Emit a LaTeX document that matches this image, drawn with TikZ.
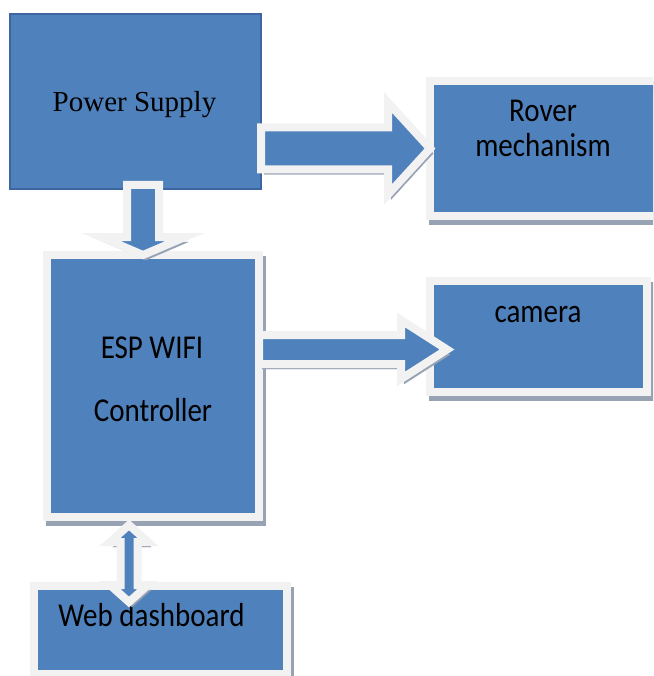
\documentclass[tikz,border=0pt]{standalone}
\usepackage{fontspec}
\setmainfont{Liberation Serif}
\newfontfamily\boxfont{Carlito}
\usetikzlibrary{calc}
\definecolor{bluec}{HTML}{4F81BD}
\definecolor{bordc}{HTML}{F2F2F2}
\definecolor{shadc}{HTML}{97A2B3}
\definecolor{psbord}{HTML}{3D65A0}
\newcommand\talltext[1]{\scalebox{1}[1.15]{#1}}
\tikzset{
  shadowed/.style={preaction={draw=shadc, fill=shadc, transform canvas={xshift=3pt, yshift=-5pt}}},
  blockbox/.style={rectangle, inner sep=0pt, outer sep=0pt, fill=bluec, draw=bordc, line width=8pt, shadowed},
  psbox/.style={rectangle, inner sep=0pt, outer sep=0pt, fill=bluec, draw=psbord, line width=2.5pt},
  blockarrow/.style={fill=bluec, draw=bordc, line width=8pt, line join=miter, miter limit=10, shadowed},
  seriflabel/.style={anchor=base, inner sep=0pt, font=\fontsize{29}{34}\selectfont},
  sanslabel/.style={anchor=base, inner sep=0pt, font=\boxfont\fontsize{29}{34}\selectfont},
}
% horizontal right arrow: start, tip, shaft half width, head half width, head length
\newcommand\harrowR[5]{\path[blockarrow] ($(#1)+(0,-#3)$) -- ($(#2)+(-#5,-#3)$) -- ($(#2)+(-#5,-#4)$) -- (#2) -- ($(#2)+(-#5,#4)$) -- ($(#2)+(-#5,#3)$) -- ($(#1)+(0,#3)$) -- cycle;}
% vertical down arrow
\newcommand\varrowD[5]{\path[blockarrow] ($(#1)+(-#3,0)$) -- ($(#2)+(-#3,-#5)$) -- ($(#2)+(-#4,-#5)$) -- (#2) -- ($(#2)+(#4,-#5)$) -- ($(#2)+(#3,-#5)$) -- ($(#1)+(#3,0)$) -- cycle;}
% vertical double arrow: top tip, bottom tip
\newcommand\varrowUD[5]{\path[blockarrow] (#1) -- ($(#1)+(#4,#5)$) -- ($(#1)+(#3,#5)$) -- ($(#2)+(#3,-#5)$) -- ($(#2)+(#4,-#5)$) -- (#2) -- ($(#2)+(-#4,-#5)$) -- ($(#2)+(-#3,-#5)$) -- ($(#1)+(-#3,#5)$) -- ($(#1)+(-#4,#5)$) -- cycle;}
\begin{document}
\begin{tikzpicture}[x=1pt,y=-1pt]
\useasboundingbox (0,0) rectangle (653,676);
\clip (0,0) rectangle (653,676);
% boxes
\node[psbox, minimum width=251pt, minimum height=175pt] (ps) at (135.5,101.5) {};
\node[blockbox, minimum width=227pt, minimum height=135pt] (rv) at (543.5,148.5) {};
\node[blockbox, minimum width=217pt, minimum height=111pt] (cam) at (538.5,336.5) {};
\node[blockbox, minimum width=212pt, minimum height=262pt] (esp) at (153,386) {};
\node[blockbox, minimum width=253pt, minimum height=88pt] (web) at (160.5,630) {};
% labels
\node[seriflabel] (tps) at (134.5,112) {Power Supply};
\node[sanslabel] (trv1) at (543,122) {\talltext{Rover}};
\node[sanslabel] (trv2) at (543,157) {\talltext{mechanism}};
\node[sanslabel] (tcam) at (538,322) {\talltext{camera}};
\node[sanslabel] (tesp1) at (152,358) {\talltext{ESP WIFI}};
\node[sanslabel] (tesp2) at (153,421) {\talltext{Controller}};
\node[sanslabel] (tweb) at (151.5,626) {\talltext{Web dashboard}};
% arrow end points
\coordinate (a1s) at (ps.east |- rv.west);
\coordinate (a1t) at (rv.west);
\coordinate (a2t) at ($(cam.west)+(17,13)$);
\coordinate (a2s) at (esp.east |- a2t);
\coordinate (a3s) at ($(ps.south)+(7.5,-4)$);
\coordinate (a3t) at (a3s |- esp.north);
\coordinate (a4t) at ($(esp.south)+(-24,8)$);
\coordinate (a4b) at ($(web.north)+(-31.5,16)$);
% arrows
\harrowR{a1s}{a1t}{21}{46}{42}
\harrowR{a2s}{a2t}{14.5}{29.5}{46}
\varrowD{a3s}{a3t}{16}{42}{18}
\varrowUD{a4t}{a4b}{8.5}{19}{17}
\end{tikzpicture}
\end{document}
